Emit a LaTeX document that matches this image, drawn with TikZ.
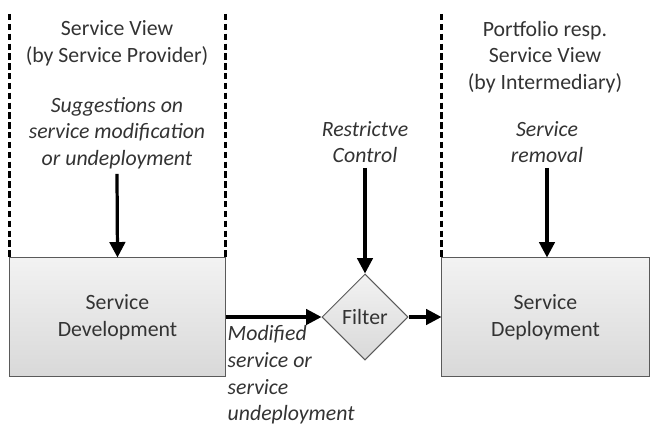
\documentclass[tikz,border=0pt]{standalone}
\usepackage{fontspec}
\setmainfont{Carlito}
\usetikzlibrary{arrows.meta,shapes.geometric}

\definecolor{txtgray}{HTML}{333333}
\definecolor{edgegray}{HTML}{5A5A5A}

\begin{document}
\begin{tikzpicture}[
        x=0.025cm, y=-0.025cm,
        every node/.style={font=\fontsize{15.5}{19}\selectfont, text=txtgray},
        procbox/.style={draw=edgegray, line width=0.7pt, top color=gray!10, bottom color=gray!30,
          minimum height=2.95cm, inner sep=0pt, align=center},
        gate/.style={diamond, draw=edgegray, line width=0.7pt, top color=gray!10, bottom color=gray!30,
          minimum size=2.15cm, inner sep=0pt},
        viewlbl/.style={align=center},
        actlbl/.style={align=center, font=\fontsize{15.5}{19}\selectfont\itshape},
        flow/.style={line width=2.3pt, -{Triangle[length=11pt, width=11pt]}},
        divider/.style={line width=1.6pt, dash pattern=on 4.5pt off 2.5pt}
      ]
      \useasboundingbox (0,0) rectangle (650,427);
      % processing steps
      \node[procbox, minimum width=5.375cm] (dev) at (117.5,317) {Service\\Development};
      \node[gate] (filter) at (365,317) {Filter};
      \node[procbox, minimum width=5.175cm] (dep) at (545.5,317) {Service\\Deployment};
      % view headings
      \node[viewlbl] (provview) at (117,43) {Service View\\(by Service Provider)};
      \node[viewlbl] (interview) at (545,57) {Portfolio resp.\\Service View\\(by Intermediary)};
      % inputs from above
      \node[actlbl] (sugg) at (117,133) {Suggestions on\\service modification\\or undeployment};
      \node[actlbl] (ctrl) at (365,142) {Restrictve\\Control};
      \node[actlbl] (removal) at (547,142) {Service\\removal};
      \node[actlbl, align=left, anchor=north west, inner sep=1pt] (modlbl) at (226,324)
        {Modified\\service or\\service\\undeployment};
      % view borders
      \draw[divider] (dev.north west |- 0,14) -- (dev.north west);
      \draw[divider] (dev.north east |- 0,14) -- (dev.north east);
      \draw[divider] (dep.north west |- 0,14) -- (dep.north west);
      % arrows
      \draw[flow] (sugg.south) -- (dev.north);
      \draw[flow] (ctrl.south) -- (filter.north);
      \draw[flow] (removal.south) -- (removal.south |- dep.north);
      \draw[flow] (dev.east |- filter.west) -- (filter.west);
      \draw[flow] (filter.east) -- (dep.west |- filter.east);
    \end{tikzpicture}
\end{document}
